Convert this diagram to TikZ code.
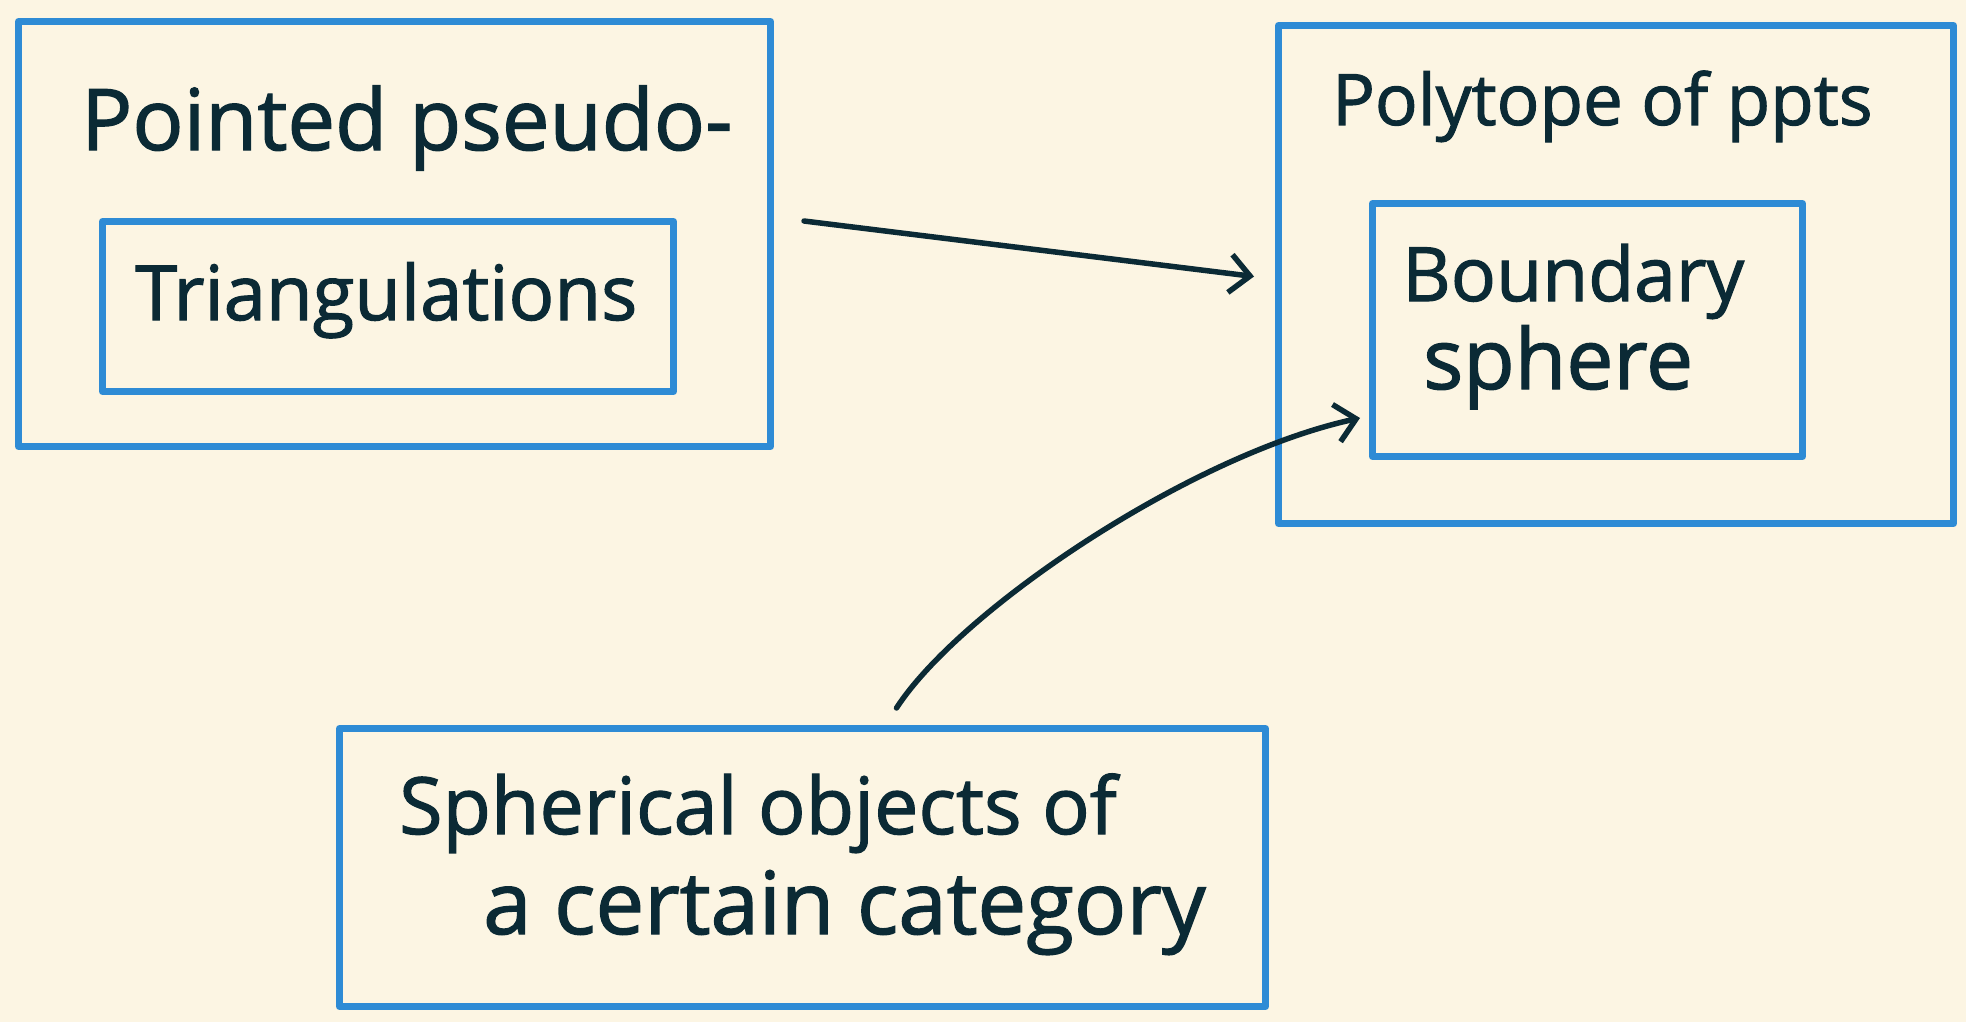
\documentclass[tikz,border=0pt]{standalone}
\usepackage{fontspec}
\setmainfont{Open Sans}
\newfontfamily\handfont{Open Sans}[FakeBold=1.5]
\usetikzlibrary{arrows.meta,calc}
\definecolor{bg}{HTML}{FCF5E3}
\definecolor{boxblue}{HTML}{2E8BD5}
\definecolor{ink}{HTML}{0B2A35}
\begin{document}
\begin{tikzpicture}[x=1pt,y=-1pt,
  box/.style={draw=boxblue, line width=7pt, line join=round, line cap=round, anchor=north west, inner sep=0pt},
  lbl/.style={text=ink, anchor=base west, inner sep=0pt},
  conn/.style={draw=ink, line width=5.5pt, line cap=round, line join=round, -{Straight Barb[length=20pt,width=38pt,line width=5.5pt]}}]
\fill[bg] (0,0) rectangle (1966,1022);
\useasboundingbox (0,0) rectangle (1966,1022);
% boxes
\node[box, minimum width=752pt, minimum height=425pt] (lo) at (15,18) {};
\node[box, minimum width=571pt, minimum height=170pt] (ti) at (99,218) {};
\node[box, minimum width=675pt, minimum height=498pt] (ro) at (1275,22) {};
\node[box, minimum width=430pt, minimum height=253pt] (bi) at (1369,200) {};
\node[box, minimum width=926pt, minimum height=278pt] (bo) at (336,725) {};
% labels
\node[lbl, font=\handfont\fontsize{85}{100}\selectfont] (t1) at (81,150) {Pointed pseudo-};
\node[lbl, font=\handfont\fontsize{76}{90}\selectfont] (t2) at (135,320) {Triangulations};
\node[lbl, font=\handfont\fontsize{71}{85}\selectfont] (t3) at (1332,125) {Polytope of ppts};
\node[lbl, font=\handfont\fontsize{75}{90}\selectfont] (t4) at (1402,301) {Boundary};
\node[lbl, font=\handfont\fontsize{84}{100}\selectfont] (t5) at (1423,389) {sphere};
\node[lbl, font=\handfont\fontsize{79}{95}\selectfont] (t6) at (399,834) {Spherical objects of};
\node[lbl, font=\handfont\fontsize{87}{100}\selectfont] (t7) at (483,934) {a certain category};
% connectors
\coordinate (a1s) at ($(lo.east)+(30,-13)$);
\coordinate (a1e) at ($(ro.west)+(-21,2)$);
\draw[conn] (a1s) -- (a1e);
\coordinate (a2s) at ($(bo.north)+(94,-17)$);
\coordinate (a2e) at ($(bi.south west)+(-9,-42)$);
\draw[conn] (a2s) .. controls (960,610) and (1190,455) .. (a2e);
\end{tikzpicture}
\end{document}
